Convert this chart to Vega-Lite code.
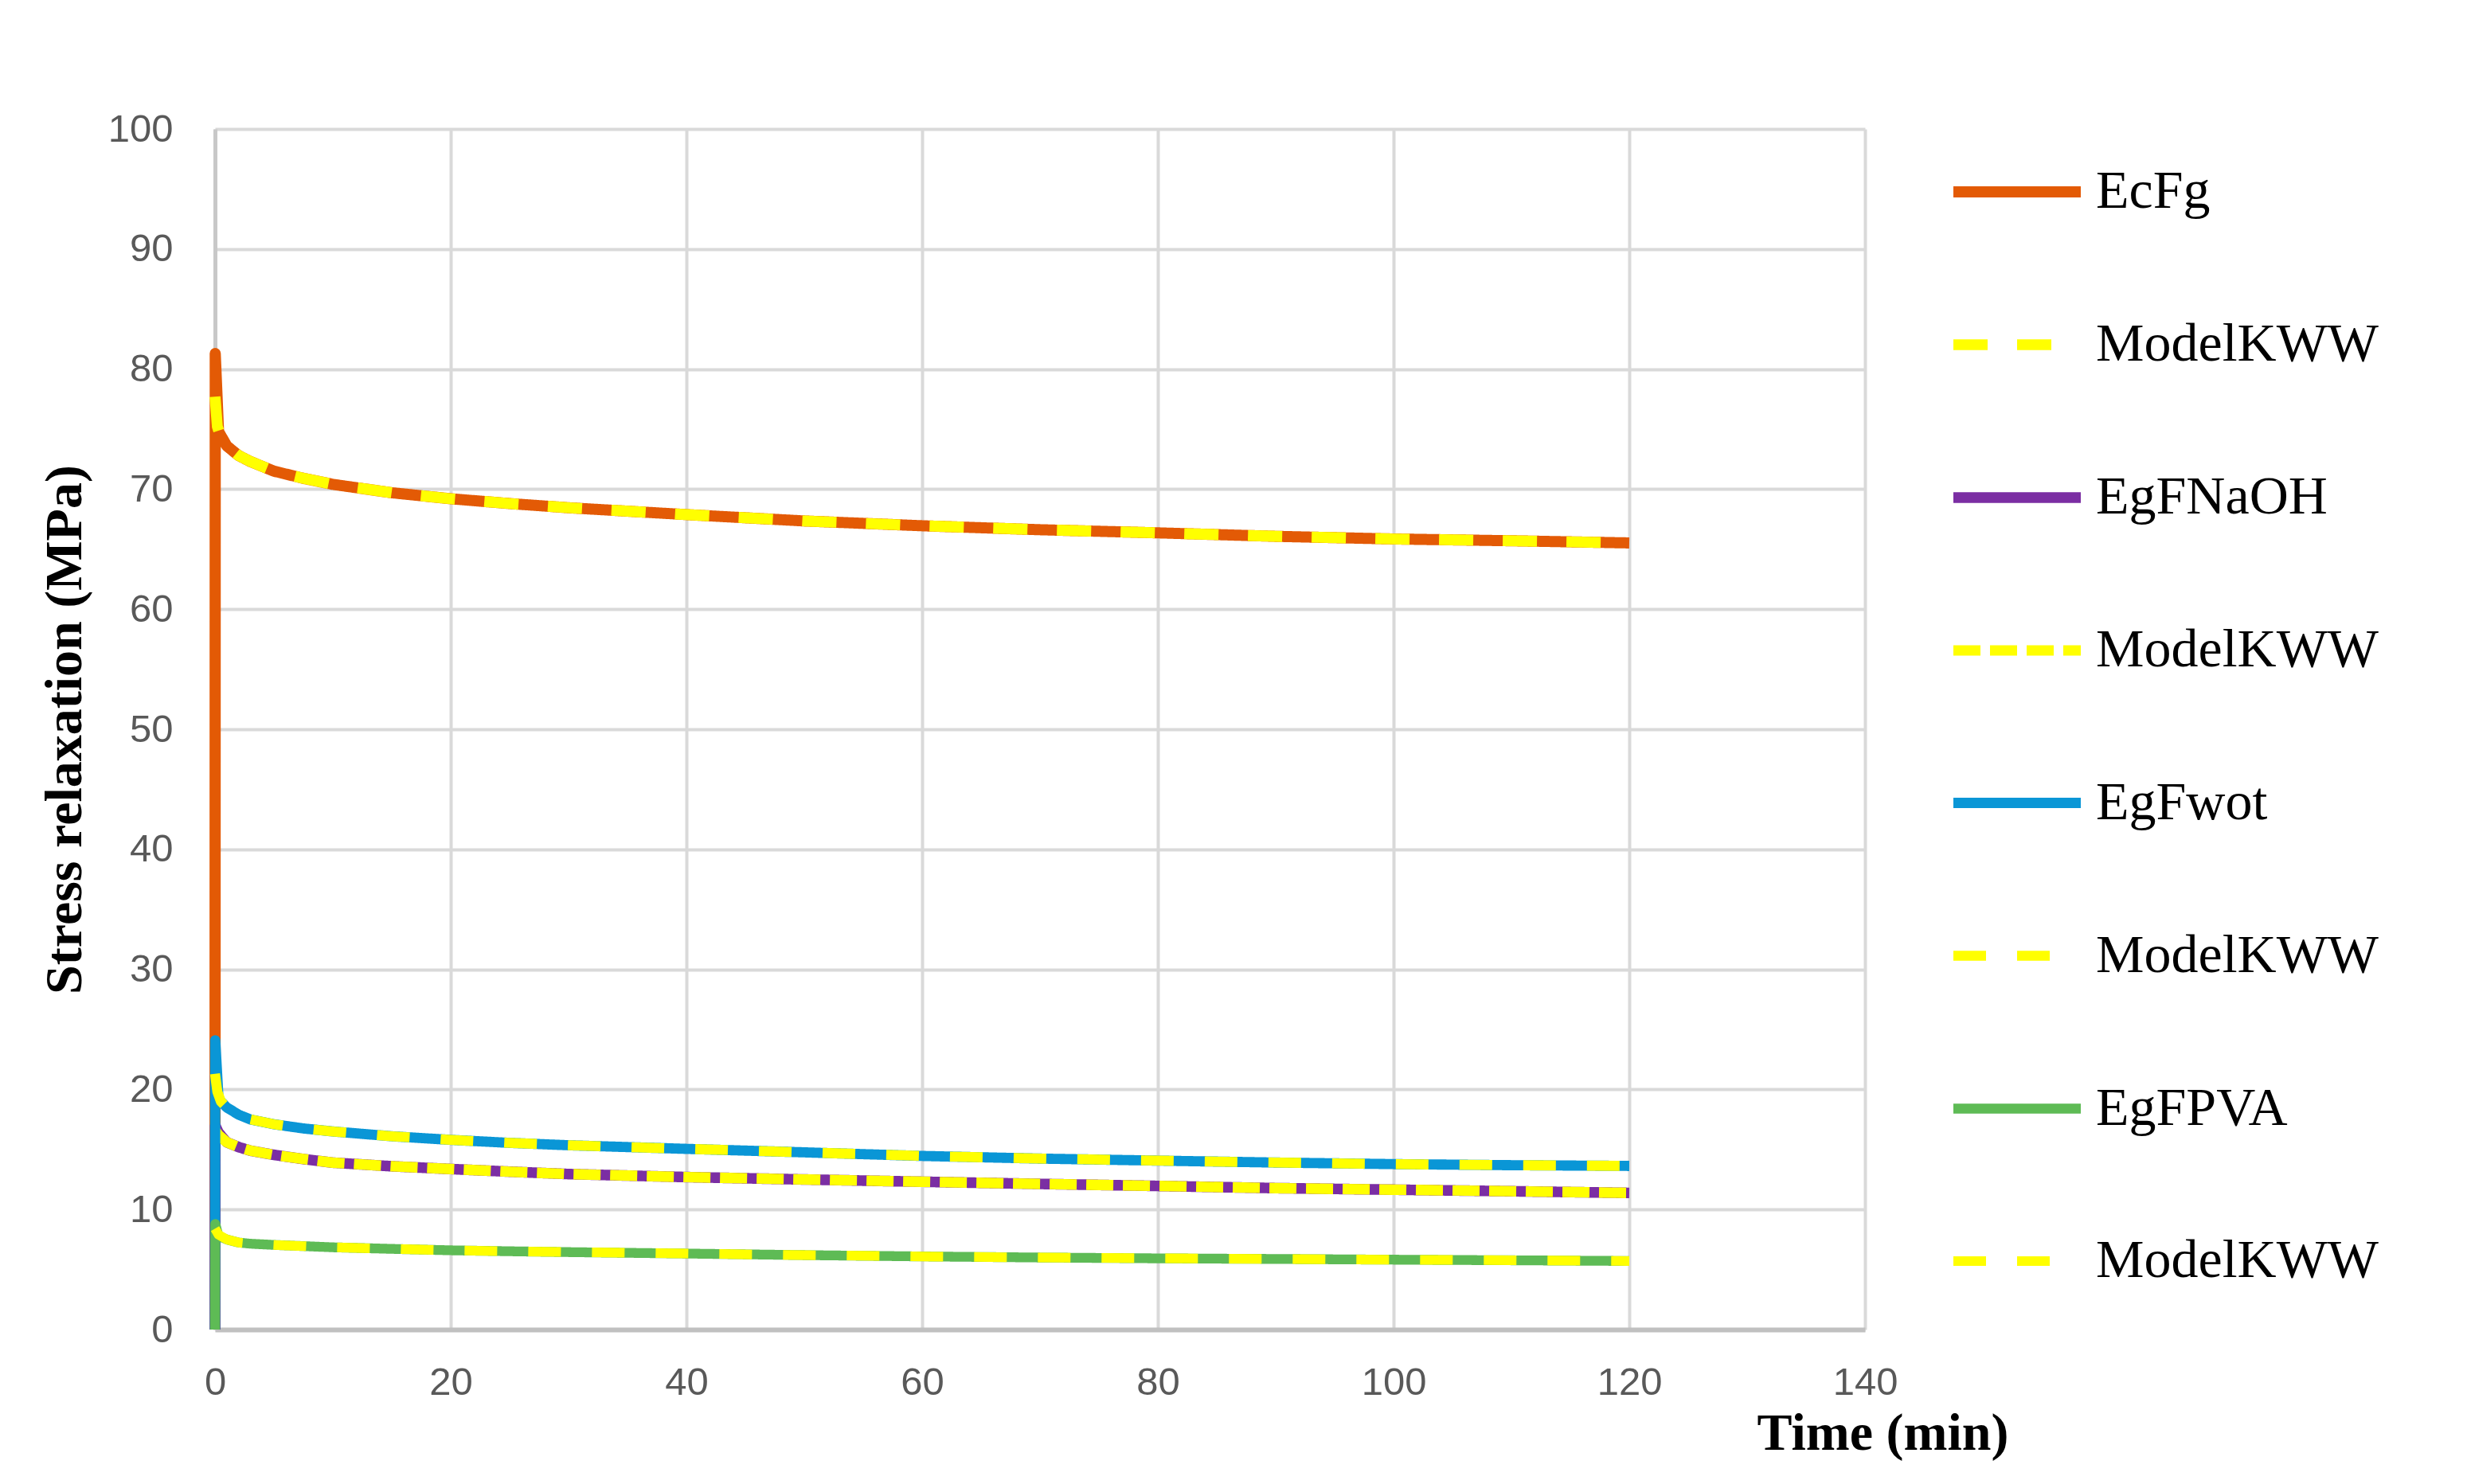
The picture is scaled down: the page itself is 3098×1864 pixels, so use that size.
{
  "$schema": "https://vega.github.io/schema/vega-lite/v6.json",
  "autosize": {"type": "none"},
  "width": 2072,
  "height": 1508,
  "padding": {"left": 270, "top": 162, "right": 756, "bottom": 194},
  "background": "white",
  "config": {
    "view": {"stroke": null},
    "legend": {
      "orient": "none",
      "legendX": 2176,
      "legendY": -8,
      "direction": "vertical",
      "symbolType": "stroke",
      "symbolSize": 25600,
      "symbolStrokeWidth": 13,
      "labelFont": "Liberation Serif",
      "labelFontSize": 68,
      "labelColor": "black",
      "labelOffset": 12,
      "labelLimit": 0,
      "rowPadding": 71
    }
  },
  "data": {
    "values": [
      {"series": "EcFg", "t": 0, "s": 0},
      {"series": "EcFg", "t": 0.02, "s": 81.3},
      {"series": "EcFg", "t": 0.3, "s": 74.8},
      {"series": "EcFg", "t": 1, "s": 73.6},
      {"series": "EcFg", "t": 2, "s": 72.8},
      {"series": "EcFg", "t": 3, "s": 72.3},
      {"series": "EcFg", "t": 5, "s": 71.5},
      {"series": "EcFg", "t": 7.5, "s": 70.9},
      {"series": "EcFg", "t": 10, "s": 70.4},
      {"series": "EcFg", "t": 15, "s": 69.7},
      {"series": "EcFg", "t": 20, "s": 69.2},
      {"series": "EcFg", "t": 25, "s": 68.8},
      {"series": "EcFg", "t": 30, "s": 68.45},
      {"series": "EcFg", "t": 40, "s": 67.88},
      {"series": "EcFg", "t": 50, "s": 67.35},
      {"series": "EcFg", "t": 60, "s": 66.95},
      {"series": "EcFg", "t": 70, "s": 66.62},
      {"series": "EcFg", "t": 80, "s": 66.36},
      {"series": "EcFg", "t": 90, "s": 66.07},
      {"series": "EcFg", "t": 100, "s": 65.85},
      {"series": "EcFg", "t": 110, "s": 65.7},
      {"series": "EcFg", "t": 120, "s": 65.52},
      {"series": "ModelKWW_1", "t": 0, "s": 77.7},
      {"series": "ModelKWW_1", "t": 0.2, "s": 75.2},
      {"series": "ModelKWW_1", "t": 0.5, "s": 74.3},
      {"series": "ModelKWW_1", "t": 1, "s": 73.6},
      {"series": "ModelKWW_1", "t": 2, "s": 72.8},
      {"series": "ModelKWW_1", "t": 3, "s": 72.3},
      {"series": "ModelKWW_1", "t": 5, "s": 71.5},
      {"series": "ModelKWW_1", "t": 7.5, "s": 70.9},
      {"series": "ModelKWW_1", "t": 10, "s": 70.4},
      {"series": "ModelKWW_1", "t": 15, "s": 69.7},
      {"series": "ModelKWW_1", "t": 20, "s": 69.2},
      {"series": "ModelKWW_1", "t": 25, "s": 68.8},
      {"series": "ModelKWW_1", "t": 30, "s": 68.45},
      {"series": "ModelKWW_1", "t": 40, "s": 67.88},
      {"series": "ModelKWW_1", "t": 50, "s": 67.35},
      {"series": "ModelKWW_1", "t": 60, "s": 66.95},
      {"series": "ModelKWW_1", "t": 70, "s": 66.62},
      {"series": "ModelKWW_1", "t": 80, "s": 66.36},
      {"series": "ModelKWW_1", "t": 90, "s": 66.07},
      {"series": "ModelKWW_1", "t": 100, "s": 65.85},
      {"series": "ModelKWW_1", "t": 110, "s": 65.7},
      {"series": "ModelKWW_1", "t": 120, "s": 65.52},
      {"series": "EgFNaOH", "t": 0, "s": 0},
      {"series": "EgFNaOH", "t": 0.02, "s": 17.0},
      {"series": "EgFNaOH", "t": 0.3, "s": 16.4},
      {"series": "EgFNaOH", "t": 1, "s": 15.6},
      {"series": "EgFNaOH", "t": 2, "s": 15.2},
      {"series": "EgFNaOH", "t": 3, "s": 14.9},
      {"series": "EgFNaOH", "t": 5, "s": 14.55},
      {"series": "EgFNaOH", "t": 7.5, "s": 14.2},
      {"series": "EgFNaOH", "t": 10, "s": 13.9},
      {"series": "EgFNaOH", "t": 15, "s": 13.6},
      {"series": "EgFNaOH", "t": 20, "s": 13.37},
      {"series": "EgFNaOH", "t": 25, "s": 13.15},
      {"series": "EgFNaOH", "t": 30, "s": 12.95},
      {"series": "EgFNaOH", "t": 40, "s": 12.7},
      {"series": "EgFNaOH", "t": 50, "s": 12.5},
      {"series": "EgFNaOH", "t": 60, "s": 12.31},
      {"series": "EgFNaOH", "t": 70, "s": 12.13},
      {"series": "EgFNaOH", "t": 80, "s": 11.96},
      {"series": "EgFNaOH", "t": 90, "s": 11.78},
      {"series": "EgFNaOH", "t": 100, "s": 11.65},
      {"series": "EgFNaOH", "t": 110, "s": 11.52},
      {"series": "EgFNaOH", "t": 120, "s": 11.38},
      {"series": "ModelKWW_2", "t": 0, "s": 16.6},
      {"series": "ModelKWW_2", "t": 0.3, "s": 16.2},
      {"series": "ModelKWW_2", "t": 1, "s": 15.6},
      {"series": "ModelKWW_2", "t": 2, "s": 15.2},
      {"series": "ModelKWW_2", "t": 3, "s": 14.9},
      {"series": "ModelKWW_2", "t": 5, "s": 14.55},
      {"series": "ModelKWW_2", "t": 7.5, "s": 14.2},
      {"series": "ModelKWW_2", "t": 10, "s": 13.9},
      {"series": "ModelKWW_2", "t": 15, "s": 13.6},
      {"series": "ModelKWW_2", "t": 20, "s": 13.37},
      {"series": "ModelKWW_2", "t": 25, "s": 13.15},
      {"series": "ModelKWW_2", "t": 30, "s": 12.95},
      {"series": "ModelKWW_2", "t": 40, "s": 12.7},
      {"series": "ModelKWW_2", "t": 50, "s": 12.5},
      {"series": "ModelKWW_2", "t": 60, "s": 12.31},
      {"series": "ModelKWW_2", "t": 70, "s": 12.13},
      {"series": "ModelKWW_2", "t": 80, "s": 11.96},
      {"series": "ModelKWW_2", "t": 90, "s": 11.78},
      {"series": "ModelKWW_2", "t": 100, "s": 11.65},
      {"series": "ModelKWW_2", "t": 110, "s": 11.52},
      {"series": "ModelKWW_2", "t": 120, "s": 11.38},
      {"series": "EgFwot", "t": 0, "s": 0},
      {"series": "EgFwot", "t": 0.02, "s": 24.1},
      {"series": "EgFwot", "t": 0.3, "s": 19.2},
      {"series": "EgFwot", "t": 1, "s": 18.5},
      {"series": "EgFwot", "t": 2, "s": 17.9},
      {"series": "EgFwot", "t": 3, "s": 17.5},
      {"series": "EgFwot", "t": 5, "s": 17.1},
      {"series": "EgFwot", "t": 7.5, "s": 16.75},
      {"series": "EgFwot", "t": 10, "s": 16.5},
      {"series": "EgFwot", "t": 15, "s": 16.1},
      {"series": "EgFwot", "t": 20, "s": 15.8},
      {"series": "EgFwot", "t": 25, "s": 15.55},
      {"series": "EgFwot", "t": 30, "s": 15.35},
      {"series": "EgFwot", "t": 40, "s": 15.05},
      {"series": "EgFwot", "t": 50, "s": 14.76},
      {"series": "EgFwot", "t": 60, "s": 14.46},
      {"series": "EgFwot", "t": 70, "s": 14.24},
      {"series": "EgFwot", "t": 80, "s": 14.07},
      {"series": "EgFwot", "t": 90, "s": 13.91},
      {"series": "EgFwot", "t": 100, "s": 13.78},
      {"series": "EgFwot", "t": 110, "s": 13.69},
      {"series": "EgFwot", "t": 120, "s": 13.63},
      {"series": "ModelKWW_3", "t": 0, "s": 21.3},
      {"series": "ModelKWW_3", "t": 0.2, "s": 19.8},
      {"series": "ModelKWW_3", "t": 0.5, "s": 19.0},
      {"series": "ModelKWW_3", "t": 1, "s": 18.5},
      {"series": "ModelKWW_3", "t": 2, "s": 17.9},
      {"series": "ModelKWW_3", "t": 3, "s": 17.5},
      {"series": "ModelKWW_3", "t": 5, "s": 17.1},
      {"series": "ModelKWW_3", "t": 7.5, "s": 16.75},
      {"series": "ModelKWW_3", "t": 10, "s": 16.5},
      {"series": "ModelKWW_3", "t": 15, "s": 16.1},
      {"series": "ModelKWW_3", "t": 20, "s": 15.8},
      {"series": "ModelKWW_3", "t": 25, "s": 15.55},
      {"series": "ModelKWW_3", "t": 30, "s": 15.35},
      {"series": "ModelKWW_3", "t": 40, "s": 15.05},
      {"series": "ModelKWW_3", "t": 50, "s": 14.76},
      {"series": "ModelKWW_3", "t": 60, "s": 14.46},
      {"series": "ModelKWW_3", "t": 70, "s": 14.24},
      {"series": "ModelKWW_3", "t": 80, "s": 14.07},
      {"series": "ModelKWW_3", "t": 90, "s": 13.91},
      {"series": "ModelKWW_3", "t": 100, "s": 13.78},
      {"series": "ModelKWW_3", "t": 110, "s": 13.69},
      {"series": "ModelKWW_3", "t": 120, "s": 13.63},
      {"series": "EgFPVA", "t": 0, "s": 0},
      {"series": "EgFPVA", "t": 0.02, "s": 8.8},
      {"series": "EgFPVA", "t": 0.3, "s": 7.8},
      {"series": "EgFPVA", "t": 1, "s": 7.5},
      {"series": "EgFPVA", "t": 2, "s": 7.25},
      {"series": "EgFPVA", "t": 3, "s": 7.15},
      {"series": "EgFPVA", "t": 5, "s": 7.05},
      {"series": "EgFPVA", "t": 7.5, "s": 6.95},
      {"series": "EgFPVA", "t": 10, "s": 6.85},
      {"series": "EgFPVA", "t": 15, "s": 6.72},
      {"series": "EgFPVA", "t": 20, "s": 6.6},
      {"series": "EgFPVA", "t": 25, "s": 6.52},
      {"series": "EgFPVA", "t": 30, "s": 6.45},
      {"series": "EgFPVA", "t": 40, "s": 6.33},
      {"series": "EgFPVA", "t": 50, "s": 6.2},
      {"series": "EgFPVA", "t": 60, "s": 6.09},
      {"series": "EgFPVA", "t": 70, "s": 6.0},
      {"series": "EgFPVA", "t": 80, "s": 5.93},
      {"series": "EgFPVA", "t": 90, "s": 5.88},
      {"series": "EgFPVA", "t": 100, "s": 5.82},
      {"series": "EgFPVA", "t": 110, "s": 5.77},
      {"series": "EgFPVA", "t": 120, "s": 5.71},
      {"series": "ModelKWW_4", "t": 0, "s": 8.4},
      {"series": "ModelKWW_4", "t": 0.3, "s": 7.9},
      {"series": "ModelKWW_4", "t": 1, "s": 7.5},
      {"series": "ModelKWW_4", "t": 2, "s": 7.25},
      {"series": "ModelKWW_4", "t": 3, "s": 7.15},
      {"series": "ModelKWW_4", "t": 5, "s": 7.05},
      {"series": "ModelKWW_4", "t": 7.5, "s": 6.95},
      {"series": "ModelKWW_4", "t": 10, "s": 6.85},
      {"series": "ModelKWW_4", "t": 15, "s": 6.72},
      {"series": "ModelKWW_4", "t": 20, "s": 6.6},
      {"series": "ModelKWW_4", "t": 25, "s": 6.52},
      {"series": "ModelKWW_4", "t": 30, "s": 6.45},
      {"series": "ModelKWW_4", "t": 40, "s": 6.33},
      {"series": "ModelKWW_4", "t": 50, "s": 6.2},
      {"series": "ModelKWW_4", "t": 60, "s": 6.09},
      {"series": "ModelKWW_4", "t": 70, "s": 6.0},
      {"series": "ModelKWW_4", "t": 80, "s": 5.93},
      {"series": "ModelKWW_4", "t": 90, "s": 5.88},
      {"series": "ModelKWW_4", "t": 100, "s": 5.82},
      {"series": "ModelKWW_4", "t": 110, "s": 5.77},
      {"series": "ModelKWW_4", "t": 120, "s": 5.71}
    ]
  },
  "mark": {"type": "line", "strokeCap": "butt", "strokeJoin": "round"},
  "encoding": {
    "x": {
      "field": "t",
      "type": "quantitative",
      "scale": {"domain": [0, 140], "nice": false},
      "axis": {
        "values": [0, 20, 40, 60, 80, 100, 120, 140],
        "grid": true,
        "gridColor": "#D9D9D9",
        "gridWidth": 4,
        "domainColor": "#C0C0C0",
        "domainWidth": 6,
        "ticks": false,
        "labelFont": "Liberation Sans",
        "labelFontSize": 49,
        "labelColor": "#595959",
        "labelPadding": 42,
        "labelFlush": false,
        "labelOverlap": false,
        "title": "Time (min)",
        "titleFont": "Liberation Serif",
        "titleFontWeight": "bold",
        "titleFontSize": 66,
        "titleColor": "black",
        "titleX": 2094,
        "titleY": 150,
        "titleAlign": "center",
        "titleBaseline": "alphabetic"
      }
    },
    "y": {
      "field": "s",
      "type": "quantitative",
      "scale": {"domain": [0, 100], "nice": false},
      "axis": {
        "values": [0, 10, 20, 30, 40, 50, 60, 70, 80, 90, 100],
        "grid": true,
        "gridColor": "#D9D9D9",
        "gridWidth": 4,
        "domainColor": "#C8C8C8",
        "domainWidth": 5,
        "ticks": false,
        "labelFont": "Liberation Sans",
        "labelFontSize": 49,
        "labelColor": "#595959",
        "labelPadding": 53,
        "labelOverlap": false,
        "title": "Stress relaxation (MPa)",
        "titleFont": "Liberation Serif",
        "titleFontWeight": "bold",
        "titleFontSize": 66,
        "titleColor": "black",
        "titleX": -189,
        "titleY": 754,
        "titleAngle": 270,
        "titleAlign": "center",
        "titleBaseline": "middle"
      }
    },
    "color": {
      "field": "series",
      "type": "nominal",
      "scale": {
        "domain": ["EcFg", "ModelKWW_1", "EgFNaOH", "ModelKWW_2", "EgFwot", "ModelKWW_3", "EgFPVA", "ModelKWW_4"],
        "range": ["#E35A05", "#FFFF00", "#7B2EA3", "#FFFF00", "#0A96D6", "#FFFF00", "#5EBB55", "#FFFF00"]
      },
      "legend": {
        "title": null,
        "labelExpr": "indexof(datum.label, 'ModelKWW') == 0 ? 'ModelKWW' : datum.label"
      }
    },
    "strokeDash": {
      "field": "series",
      "type": "nominal",
      "scale": {
        "domain": ["EcFg", "ModelKWW_1", "EgFNaOH", "ModelKWW_2", "EgFwot", "ModelKWW_3", "EgFPVA", "ModelKWW_4"],
        "range": [[1, 0], [43, 37], [1, 0], [34, 12], [1, 0], [41, 39], [1, 0], [41, 39]]
      },
      "legend": {
        "title": null,
        "labelExpr": "indexof(datum.label, 'ModelKWW') == 0 ? 'ModelKWW' : datum.label"
      }
    },
    "strokeWidth": {
      "field": "series",
      "type": "nominal",
      "scale": {
        "domain": ["EcFg", "ModelKWW_1", "EgFNaOH", "ModelKWW_2", "EgFwot", "ModelKWW_3", "EgFPVA", "ModelKWW_4"],
        "range": [14, 12, 14, 12, 14, 12, 14, 12]
      },
      "legend": null
    }
  }
}
